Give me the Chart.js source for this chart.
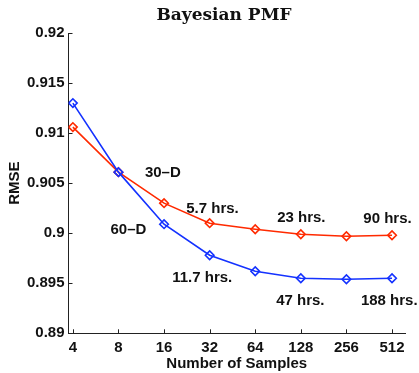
<!DOCTYPE html>
<html><head><meta charset="utf-8">
<script src="https://cdn.jsdelivr.net/npm/chart.js@4/dist/chart.umd.min.js"></script>
<style>html,body{margin:0;padding:0;background:#fff}#wrap{width:419px;height:373px}</style>
</head><body><div id="wrap"><canvas id="c" width="419" height="373"></canvas></div>
<script>
const samples = [4, 8, 16, 32, 64, 128, 256, 512];
const rmse30 = [0.9106, 0.9061, 0.9030, 0.9010, 0.9004, 0.8999, 0.8997, 0.8998];
const rmse60 = [0.9130, 0.9061, 0.9009, 0.8978, 0.8962, 0.8955, 0.8954, 0.8955];
const yTicks = [0.89, 0.895, 0.9, 0.905, 0.91, 0.915, 0.92];
const notes = [
  {text: '30\u2013D', x: 15.7, y: 0.9060},
  {text: '5.7 hrs.', x: 33.4, y: 0.9024},
  {text: '23 hrs.', x: 129, y: 0.9015},
  {text: '90 hrs.', x: 478, y: 0.9014},
  {text: '60\u2013D', x: 9.3, y: 0.9003},
  {text: '11.7 hrs.', x: 28.6, y: 0.8955},
  {text: '47 hrs.', x: 127, y: 0.8932},
  {text: '188 hrs.', x: 491, y: 0.8932}
];

const RED = '#ff2a00', BLUE = '#1432ff';
const FONT = "'Liberation Sans', Arial, sans-serif";
const toPts = (vals) => samples.map((s, i) => ({x: Math.log2(s), y: vals[i]}));

const decor = {
  id: 'decor',
  afterDraw(chart) {
    const {ctx, scales: {x, y}, chartArea: a} = chart;
    ctx.save();
    ctx.strokeStyle = '#222';
    ctx.lineWidth = 1;
    ctx.beginPath();
    samples.forEach(s => {
      const px = Math.round(x.getPixelForValue(Math.log2(s))) + 0.5;
      ctx.moveTo(px, a.bottom); ctx.lineTo(px, a.bottom - 4);
    });
    yTicks.forEach(v => {
      const py = Math.round(y.getPixelForValue(v)) + 0.5;
      ctx.moveTo(a.left, py); ctx.lineTo(a.left + 4, py);
    });
    ctx.stroke();
    ctx.fillStyle = '#111';
    ctx.font = 'bold 15px ' + FONT;
    ctx.textAlign = 'center';
    ctx.textBaseline = 'middle';
    notes.forEach(n => {
      ctx.fillText(n.text, x.getPixelForValue(Math.log2(n.x)), y.getPixelForValue(n.y));
    });
    ctx.font = 'bold 17px "DejaVu Serif", "Liberation Serif", serif';
    ctx.fillText('Bayesian PMF', 224, 16);
    ctx.restore();
  }
};

new Chart(document.getElementById('c'), {
  type: 'line',
  data: {
    datasets: [
      {label: '60-D', data: toPts(rmse60), borderColor: BLUE, backgroundColor: 'rgba(0,0,0,0)',
       borderWidth: 1.6, pointStyle: 'rectRot', pointRadius: 4.3, pointBorderWidth: 1.6,
       pointBorderColor: BLUE, pointBackgroundColor: 'rgba(0,0,0,0)', tension: 0},
      {label: '30-D', data: toPts(rmse30), borderColor: RED, backgroundColor: 'rgba(0,0,0,0)',
       borderWidth: 1.6, pointStyle: 'rectRot', pointRadius: 4.3, pointBorderWidth: 1.6,
       pointBorderColor: RED, pointBackgroundColor: 'rgba(0,0,0,0)', tension: 0}
    ]
  },
  options: {
    responsive: false,
    animation: false,
    devicePixelRatio: 1,
    layout: {padding: {top: 33, right: 14, left: 0, bottom: 0}},
    plugins: {legend: {display: false}, tooltip: {enabled: false}},
    scales: {
      x: {
        type: 'linear',
        min: 1.904, max: 9.285,
        afterBuildTicks: (s) => { s.ticks = samples.map(v => ({value: Math.log2(v)})); },
        afterFit: (s) => { s.height = 39.7; },
        grid: {display: false, drawTicks: false},
        border: {display: true, color: '#222', width: 1},
        ticks: {
          color: '#111', padding: 6, maxRotation: 0, autoSkip: false,
          font: {family: FONT, size: 15, weight: 'bold'},
          callback: (v) => String(Math.round(Math.pow(2, v)))
        },
        title: {display: true, text: 'Number of Samples', color: '#111',
          font: {family: FONT, size: 15, weight: 'bold'}, padding: {top: 0, bottom: 0}}
      },
      y: {
        type: 'linear',
        min: 0.89, max: 0.92,
        afterBuildTicks: (s) => { s.ticks = yTicks.map(v => ({value: v})); },
        afterFit: (s) => { s.width = 68.5; },
        grid: {display: false, drawTicks: false},
        border: {display: true, color: '#222', width: 1},
        ticks: {
          color: '#111', padding: 4,
          font: {family: FONT, size: 15, weight: 'bold'},
          callback: (v) => String(+v.toFixed(3))
        },
        title: {display: true, text: 'RMSE', color: '#111',
          font: {family: FONT, size: 15, weight: 'bold'}, padding: {top: 6, bottom: 0}}
      }
    }
  },
  plugins: [decor]
});
</script></body></html>
